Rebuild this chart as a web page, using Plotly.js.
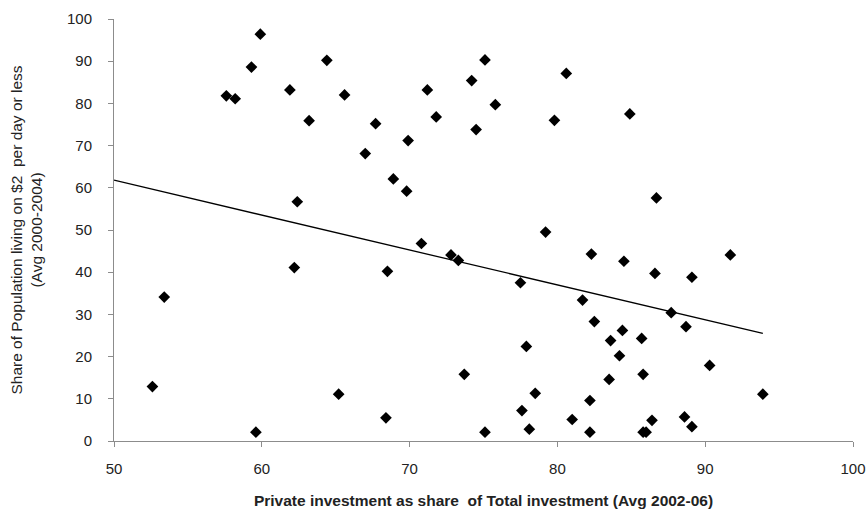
<!DOCTYPE html>
<html>
<head>
<meta charset="utf-8">
<script src="https://cdn.plot.ly/plotly-3.0.1.min.js"></script>
<style>html,body{margin:0;padding:0;background:#fff;}#chart{width:867px;height:509px;}</style>
</head>
<body>
<div id="chart"></div>
<script>
// Private investment share (x) and population share living on $2/day (y)
const privateShare = [57.6,58.2,59.3,59.9,61.9,64.4,63.2,65.6,67.7,67.0,68.9,62.4,75.1,80.6,74.2,71.2,75.8,71.8,84.9,79.8,74.5,69.9,69.8,86.7,79.2,53.4,52.6,59.6,62.2,68.5,65.2,68.4,70.8,72.8,73.3,82.3,84.5,86.6,77.5,81.7,87.7,82.5,84.4,83.6,85.7,77.9,84.2,73.7,85.8,83.5,78.5,82.2,77.6,81.0,86.4,75.1,78.1,82.2,85.8,86.0,91.7,89.1,88.7,90.3,93.9,88.6,89.1];
const povertyShare = [81.8,81.1,88.6,96.4,83.2,90.2,75.9,82.0,75.2,68.1,62.1,56.7,90.3,87.1,85.4,83.2,79.7,76.8,77.5,76.0,73.8,71.2,59.2,57.6,49.5,34.1,12.9,2.1,41.1,40.2,11.1,5.5,46.8,44.1,42.8,44.3,42.6,39.7,37.5,33.4,30.4,28.3,26.2,23.8,24.3,22.4,20.2,15.8,15.8,14.6,11.3,9.6,7.2,5.1,4.9,2.1,2.8,2.1,2.1,2.1,44.1,38.8,27.1,17.9,11.1,5.7,3.4];
// Linear trend line endpoints
const trendX = [50, 93.9];
const trendY = [61.8, 25.5];
const xTicks = [50,60,70,80,90,100];
const yTicks = [0,10,20,30,40,50,60,70,80,90,100];

const fontFam = '"Liberation Sans", Arial, sans-serif';

const traces = [
  {x: trendX, y: trendY, type: 'scatter', mode: 'lines',
   line: {color: '#000', width: 1.3}, hoverinfo: 'skip', showlegend: false},
  {x: privateShare, y: povertyShare, type: 'scatter', mode: 'markers',
   marker: {symbol: 'diamond', size: 9, color: '#000'}, showlegend: false}
];

const axisCommon = {
  showgrid: false, zeroline: false, showline: true, linecolor: '#8c8c8c', linewidth: 1,
  ticks: 'outside', ticklen: 5, tickcolor: '#8c8c8c', tickwidth: 1,
  tickfont: {family: fontFam, size: 15, color: '#222'}
};

const layout = {
  width: 867, height: 509,
  margin: {l: 113.5, r: 14, t: 19, b: 68},
  paper_bgcolor: '#fff', plot_bgcolor: '#fff',
  xaxis: Object.assign({}, axisCommon, {
    range: [50, 100], tickvals: xTicks, ticktext: xTicks.map(String),
    ticklabelstandoff: 9,
    title: {text: '<b>Private investment as share  of Total investment (Avg 2002-06)</b>',
            font: {family: fontFam, size: 15.5, color: '#222'}, standoff: 23}
  }),
  yaxis: Object.assign({}, axisCommon, {
    range: [0, 100], tickvals: yTicks, ticktext: yTicks.map(String),
    ticklabelstandoff: 13,
    title: {text: 'Share of Population living on $2  per day or less<br>(Avg 2000-2004)',
            font: {family: fontFam, size: 15.5, color: '#222'}, standoff: 20}
  })
};

Plotly.newPlot('chart', traces, layout, {displayModeBar: false, staticPlot: true});
</script>
</body>
</html>
